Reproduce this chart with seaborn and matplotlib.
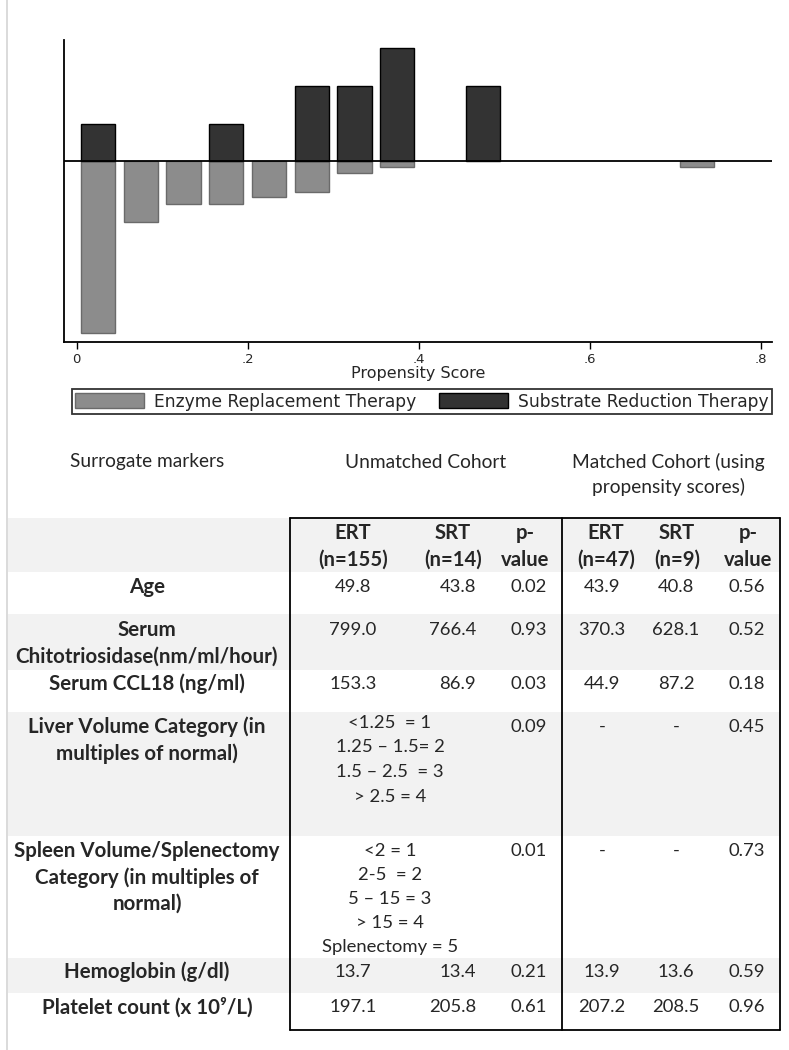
import numpy as np
import pandas as pd
import seaborn as sns
import matplotlib.pyplot as plt
from matplotlib.patches import Rectangle, Patch
from matplotlib.lines import Line2D

# Histogram values (bar centres on the propensity score axis)
ert_x = [0.025, 0.075, 0.125, 0.175, 0.225, 0.275, 0.325, 0.375, 0.725]
ert_h = [4.56, 1.62, 1.13, 1.13, 0.96, 0.81, 0.30, 0.15, 0.15]
srt_x = [0.025, 0.175, 0.275, 0.325, 0.375, 0.475]
srt_h = [1, 1, 2, 2, 3, 2]
xticks = [0, 0.2, 0.4, 0.6, 0.8]
xtick_labels = ['0', '.2', '.4', '.6', '.8']
legend_labels = ['Enzyme Replacement Therapy', 'Substrate Reduction Therapy']

# Table
col_titles = ['Surrogate markers', 'Unmatched Cohort', 'Matched Cohort (using\npropensity scores)']
col_heads = ['ERT\n(n=155)', 'SRT\n(n=14)', 'p-\nvalue', 'ERT\n(n=47)', 'SRT\n(n=9)', 'p-\nvalue']
row_labels = ['Age', 'Serum\nChitotriosidase(nm/ml/hour)', 'Serum CCL18 (ng/ml)',
              'Liver Volume Category (in\nmultiples of normal)',
              'Spleen Volume/Splenectomy\nCategory (in multiples of\nnormal)',
              'Hemoglobin (g/dl)', 'Platelet count (x 10\u2079/L)']
unm_ert = ['49.8', '799.0', '153.3', '', '', '13.7', '197.1']
unm_srt = ['43.8', '766.4', '86.9', '', '', '13.4', '205.8']
unm_p = ['0.02', '0.93', '0.03', '0.09', '0.01', '0.21', '0.61']
mat_ert = ['43.9', '370.3', '44.9', '-', '-', '13.9', '207.2']
mat_srt = ['40.8', '628.1', '87.2', '-', '-', '13.6', '208.5']
mat_p = ['0.56', '0.52', '0.18', '0.45', '0.73', '0.59', '0.96']
liver_cats = ['<1.25  = 1', '1.25 \u2013 1.5= 2', '1.5 \u2013 2.5  = 3', '> 2.5 = 4']
spleen_cats = ['<2 = 1', '2-5  = 2', '5 \u2013 15 = 3', '> 15 = 4', 'Splenectomy = 5']

sns.set_style('white')
plt.rcParams['font.family'] = ['DejaVu Sans']

W, H = 789, 1050
fig = plt.figure(figsize=(W / 100, H / 100), dpi=100)


def fx(x):
    return x / W


def fy(y):
    return 1 - y / H


# ---- histogram ----
ax = fig.add_axes([fx(64), fy(342), (772 - 64) / W, (342 - 40) / H])
sns.barplot(x=ert_x, y=[-h for h in ert_h], native_scale=True, color='#8c8c8c',
            edgecolor='#6a6a6a', linewidth=1, saturation=1, width=0.8,
            errorbar=None, ax=ax)
sns.barplot(x=srt_x, y=srt_h, native_scale=True, color='#333333',
            edgecolor='black', linewidth=1, saturation=1, width=0.8,
            errorbar=None, ax=ax)
ax.axhline(0, color='black', lw=1.3, zorder=5)
ax.set_xlim(-0.0147, 0.8129)
ax.set_ylim(-4.8, 3.22)
ax.set_xticks(xticks)
ax.set_xticklabels(xtick_labels)
ax.set_yticks([])
ax.set_ylabel('')
ax.tick_params(axis='x', bottom=True, length=5, width=1, color='black',
               labelsize=9.5, pad=3)
for s in ['top', 'right']:
    ax.spines[s].set_visible(False)
for s in ['left', 'bottom']:
    ax.spines[s].set_color('black')
    ax.spines[s].set_linewidth(1.3)
ax.set_xlabel('Propensity Score', fontsize=11.5, labelpad=0)

handles = [Patch(facecolor='#8c8c8c', edgecolor='#6a6a6a'),
           Patch(facecolor='#333333', edgecolor='black')]
leg = fig.legend(handles, legend_labels, loc='lower left',
                 bbox_to_anchor=(fx(72), fy(414), (772 - 72) / W, 26 / H),
                 mode='expand', ncol=2, fancybox=False, edgecolor='black',
                 handlelength=4.0, handleheight=1.0, borderaxespad=0,
                 borderpad=0.2, handletextpad=0.6, columnspacing=0.8,
                 fontsize=12.3)
leg.get_frame().set_linewidth(1.3)

# page border on the left
fig.add_artist(Line2D([fx(7), fx(7)], [0, 1], color='#d4d4d4', lw=1.2))

# ---- table ----
tfont = ['Lato', 'DejaVu Sans']

for y0, y1 in [(518, 572), (614, 670), (712, 836), (958, 993)]:
    fig.add_artist(Rectangle((fx(8), fy(y1)), (780 - 8) / W, (y1 - y0) / H,
                             transform=fig.transFigure, facecolor='#f2f2f2',
                             edgecolor='none', zorder=0))

for xs, ys in [([290, 780], [518, 518]), ([290, 780], [1030, 1030]),
               ([290, 290], [518, 1030]), ([562, 562], [518, 1030]),
               ([780, 780], [518, 1030])]:
    fig.add_artist(Line2D([fx(v) for v in xs], [fy(v) for v in ys],
                          color='black', lw=1.3))


def put(x, y, s, ha='center', bold=False, gap=25, fs=13.3):
    for i, line in enumerate(s.split('\n')):
        fig.text(fx(x), fy(y + i * gap), line, ha=ha, va='center', fontsize=fs,
                 fontweight='bold' if bold else 'normal', family=tfont)


put(147, 462, col_titles[0], fs=13.8)
put(426, 462, col_titles[1], fs=13.8)
put(668, 462, col_titles[2], fs=13.8)

head_x = [353, 453, 525, 606, 677, 748]
for x, s in zip(head_x, col_heads):
    put(x, 533, s, bold=True, gap=27, fs=14.6)

row_y = [587, 630, 684, 727, 851, 972, 1007]
for y, lab in zip(row_y, row_labels):
    put(147, y, lab, bold=True, gap=26.5, fs=14.8)

for i, y in enumerate(row_y):
    put(353, y, unm_ert[i])
    put(476, y, unm_srt[i], ha='right')
    put(547, y, unm_p[i], ha='right')
    put(602, y, mat_ert[i])
    put(676, y, mat_srt[i])
    put(765, y, mat_p[i], ha='right')

put(390, 723, '\n'.join(liver_cats), gap=24.5)
put(390, 851, '\n'.join(spleen_cats), gap=24)

fig.savefig('out.png', dpi=100)
